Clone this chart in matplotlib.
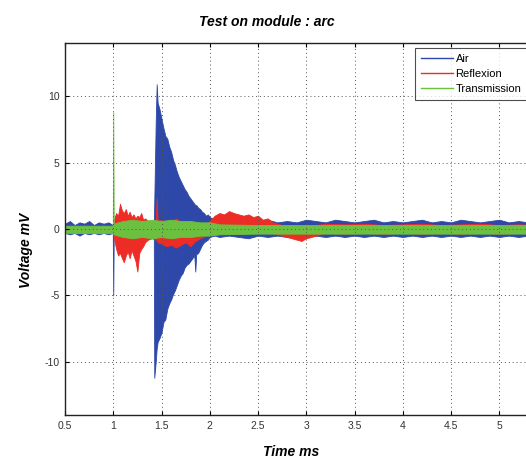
import matplotlib
matplotlib.use("Agg")
import matplotlib.pyplot as plt

# ---------------- data (envelopes) ----------------
title = "Test on module : arc"
xlabel = "Time ms"
ylabel = "Voltage mV"
series_names = ["Air", "Reflexion", "Transmission"]
xticks = [0.5, 1, 1.5, 2, 2.5, 3, 3.5, 4, 4.5, 5]
xticklabels = ["0.5", "1", "1.5", "2", "2.5", "3", "3.5", "4", "4.5", "5"]
yticks = [-10, -5, 0, 5, 10]
yticklabels = ["-10", "-5", "0", "5", "10"]

air_t = [0.50, 0.55, 0.60, 0.65, 0.70, 0.75, 0.80, 0.85, 0.90, 0.95, 0.995, 1.000, 1.005,
         1.05, 1.10, 1.15, 1.20, 1.25, 1.30, 1.35, 1.40, 1.42, 1.425, 1.44, 1.45, 1.46,
         1.48, 1.50, 1.52, 1.54, 1.56, 1.58, 1.60, 1.62, 1.64, 1.66, 1.68, 1.70, 1.72,
         1.74, 1.76, 1.78, 1.80, 1.82, 1.84, 1.85, 1.86, 1.88, 1.90, 1.92, 1.94, 1.96,
         1.98, 2.00, 2.05, 2.10, 2.20, 2.30, 2.40, 2.50, 2.60, 2.70, 2.80, 2.90, 3.00,
         3.10, 3.20, 3.30, 3.40, 3.50, 3.60, 3.70, 3.80, 3.90, 4.00, 4.10, 4.20, 4.30,
         4.40, 4.50, 4.60, 4.70, 4.80, 4.90, 5.00, 5.10, 5.20, 5.30, 5.40]
air_hi = [0.4, 0.6, 0.3, 0.5, 0.4, 0.6, 0.3, 0.5, 0.4, 0.5, 0.3, 0.3, 0.3,
          0.2, 0.3, 0.2, 0.3, 0.2, 0.3, 0.2, 0.3, 0.3, 2.0, 8.0, 10.9, 9.5,
          9.0, 8.3, 7.6, 7.0, 6.8, 6.2, 5.8, 5.2, 4.8, 4.3, 3.9, 3.6, 3.3,
          3.0, 2.8, 2.5, 2.3, 2.1, 1.9, 1.8, 1.8, 1.6, 1.5, 1.3, 1.2, 1.0,
          1.1, 0.9, 0.7, 0.6, 0.5, 0.6, 0.5, 0.6, 0.7, 0.5, 0.6, 0.5, 0.7,
          0.6, 0.5, 0.7, 0.6, 0.5, 0.6, 0.7, 0.5, 0.6, 0.5, 0.6, 0.7, 0.5,
          0.6, 0.5, 0.7, 0.6, 0.5, 0.6, 0.7, 0.5, 0.6, 0.5, 0.6]
air_lo = [-0.3, -0.4, -0.3, -0.5, -0.3, -0.4, -0.3, -0.4, -0.3, -0.4, -0.3, -5.0, -0.3,
          -0.2, -0.2, -0.2, -0.2, -0.2, -0.2, -0.2, -0.3, -0.3, -11.2, -10.0, -9.0, -8.5,
          -8.2, -7.8, -7.0, -6.8, -6.0, -5.6, -5.3, -4.9, -4.6, -4.2, -3.8, -3.5, -3.3,
          -2.9, -2.7, -2.6, -2.4, -2.2, -2.0, -3.2, -1.9, -1.8, -1.5, -1.2, -1.0, -0.9,
          -0.8, -0.6, -0.5, -0.6, -0.5, -0.6, -0.7, -0.5, -0.6, -0.5, -0.6, -0.5, -0.6,
          -0.5, -0.6, -0.5, -0.6, -0.5, -0.6, -0.5, -0.6, -0.5, -0.6, -0.5, -0.6, -0.5,
          -0.6, -0.5, -0.6, -0.5, -0.6, -0.5, -0.6, -0.5, -0.6, -0.5, -0.6]

refl_t = [0.50, 0.99, 1.01, 1.03, 1.05, 1.07, 1.09, 1.11, 1.13, 1.15, 1.17, 1.19, 1.21,
          1.23, 1.25, 1.27, 1.29, 1.31, 1.33, 1.36, 1.40, 1.44, 1.45, 1.46, 1.50, 1.55,
          1.60, 1.65, 1.70, 1.75, 1.80, 1.85, 1.90, 1.95, 2.00, 2.05, 2.10, 2.15, 2.20,
          2.25, 2.30, 2.35, 2.40, 2.45, 2.50, 2.55, 2.60, 2.65, 2.70, 2.75, 2.80, 2.85,
          2.90, 2.95, 3.00, 3.05, 3.10, 3.20, 3.40, 3.60, 3.80, 4.00, 4.20, 4.40, 4.60,
          4.80, 5.00, 5.20, 5.40]
refl_hi = [0.1, 0.1, 0.8, 1.2, 1.0, 1.9, 1.4, 1.2, 1.5, 1.0, 1.3, 0.9, 1.1,
           0.8, 1.0, 0.9, 1.2, 0.7, 0.8, 0.6, 0.5, 0.6, 2.3, 0.6, 0.7, 0.5,
           0.6, 0.8, 0.5, 0.6, 0.4, 0.5, 0.3, 0.4, 0.6, 1.0, 1.2, 1.1, 1.35,
           1.2, 1.1, 1.0, 1.1, 0.9, 1.0, 0.7, 0.8, 0.5, 0.4, 0.3, 0.2, 0.1,
           0.1, 0.0, 0.1, 0.2, 0.3, 0.4, 0.35, 0.4, 0.3, 0.35, 0.4, 0.3, 0.35,
           0.4, 0.3, 0.35, 0.3]
refl_lo = [-0.15, -0.15, -0.8, -1.5, -2.0, -1.8, -2.2, -2.5, -2.0, -1.7, -2.2, -1.6, -2.0,
           -2.4, -3.2, -1.8, -1.5, -1.3, -1.0, -0.8, -0.7, -0.8, -0.8, -1.0, -1.1, -1.3,
           -1.2, -1.4, -1.2, -1.0, -1.3, -0.9, -0.7, -0.5, -0.3, -0.1, 0.0, 0.1, 0.1,
           0.0, 0.1, -0.1, 0.0, -0.1, -0.1, -0.2, -0.2, -0.3, -0.4, -0.5, -0.6, -0.7,
           -0.8, -0.9, -0.7, -0.6, -0.5, -0.3, -0.35, -0.3, -0.35, -0.3, -0.35, -0.3, -0.35,
           -0.3, -0.35, -0.3, -0.3]

trans_t = [0.50, 0.995, 1.000, 1.005, 1.05, 1.10, 1.20, 1.30, 1.40, 1.50, 1.60, 1.70,
           1.80, 1.90, 2.00, 2.10, 2.50, 3.00, 3.50, 4.00, 4.50, 5.00, 5.40]
trans_hi = [0.25, 0.25, 8.8, 0.4, 0.5, 0.6, 0.7, 0.6, 0.7, 0.6, 0.7, 0.6,
            0.6, 0.5, 0.5, 0.35, 0.3, 0.3, 0.3, 0.3, 0.3, 0.3, 0.3]
trans_lo = [-0.3, -0.3, -0.3, -0.4, -0.5, -0.6, -0.7, -0.6, -0.7, -0.6, -0.7, -0.6,
            -0.6, -0.5, -0.5, -0.4, -0.35, -0.35, -0.35, -0.35, -0.35, -0.35, -0.35]

colors = ["#2d48a8", "#ee2c26", "#6cc040"]

# ---------------- figure ----------------
fig = plt.figure(figsize=(5.26, 4.61), dpi=100)
W, H = 526, 461
AX_L, AX_R, AX_T, AX_B = 65, 536, 43, 415
ax = fig.add_axes([AX_L / W, (H - AX_B) / H, (AX_R - AX_L) / W, (AX_B - AX_T) / H])

for (t, hi, lo), c, name in zip(
        [(air_t, air_hi, air_lo), (refl_t, refl_hi, refl_lo), (trans_t, trans_hi, trans_lo)],
        colors, series_names):
    ax.fill_between(t, lo, hi, color=c, linewidth=0.6, edgecolor=c)
    ax.plot([], [], color=c, lw=1.0, label=name)

ax.set_xlim(0.5, 0.5 + (AX_R - AX_L) / 96.5)
ax.set_ylim(-14, 14)
ax.set_xticks(xticks)
ax.set_xticklabels(xticklabels)
ax.set_yticks(yticks)
ax.set_yticklabels(yticklabels)
ax.tick_params(direction="in", top=True, right=True, length=3, width=0.8,
               labelsize=7.5, labelcolor="#333333", pad=4)
for lab in ax.get_xticklabels() + ax.get_yticklabels():
    lab.set_family("Liberation Sans")
ax.grid(True, color="#555555", linestyle=(0, (1, 3)), linewidth=0.7)
for s in ax.spines.values():
    s.set_linewidth(1.0)
    s.set_color("#222222")

leg = ax.legend(loc="upper left",
                bbox_to_anchor=((415 - AX_L) / (AX_R - AX_L), (AX_B - 48) / (AX_B - AX_T)),
                frameon=True, fancybox=False, edgecolor="#222222",
                handlelength=2.9, handletextpad=0.2, borderpad=0.55, labelspacing=0.45,
                borderaxespad=0.0,
                prop={"family": "Liberation Sans", "size": 8})
leg.get_frame().set_linewidth(0.8)

fig.text(267 / W, 1 - 22 / H, title, ha="center", va="center", fontsize=10,
         fontweight="bold", fontstyle="italic", family="Liberation Sans")
fig.text(291 / W, 1 - 452 / H, xlabel, ha="center", va="center", fontsize=10,
         fontweight="bold", fontstyle="italic", family="Liberation Sans")
fig.text(26 / W, 1 - 250 / H, ylabel, ha="center", va="center", fontsize=10,
         fontweight="bold", fontstyle="italic", family="Liberation Sans", rotation=90)

fig.savefig("out.png", dpi=100)
